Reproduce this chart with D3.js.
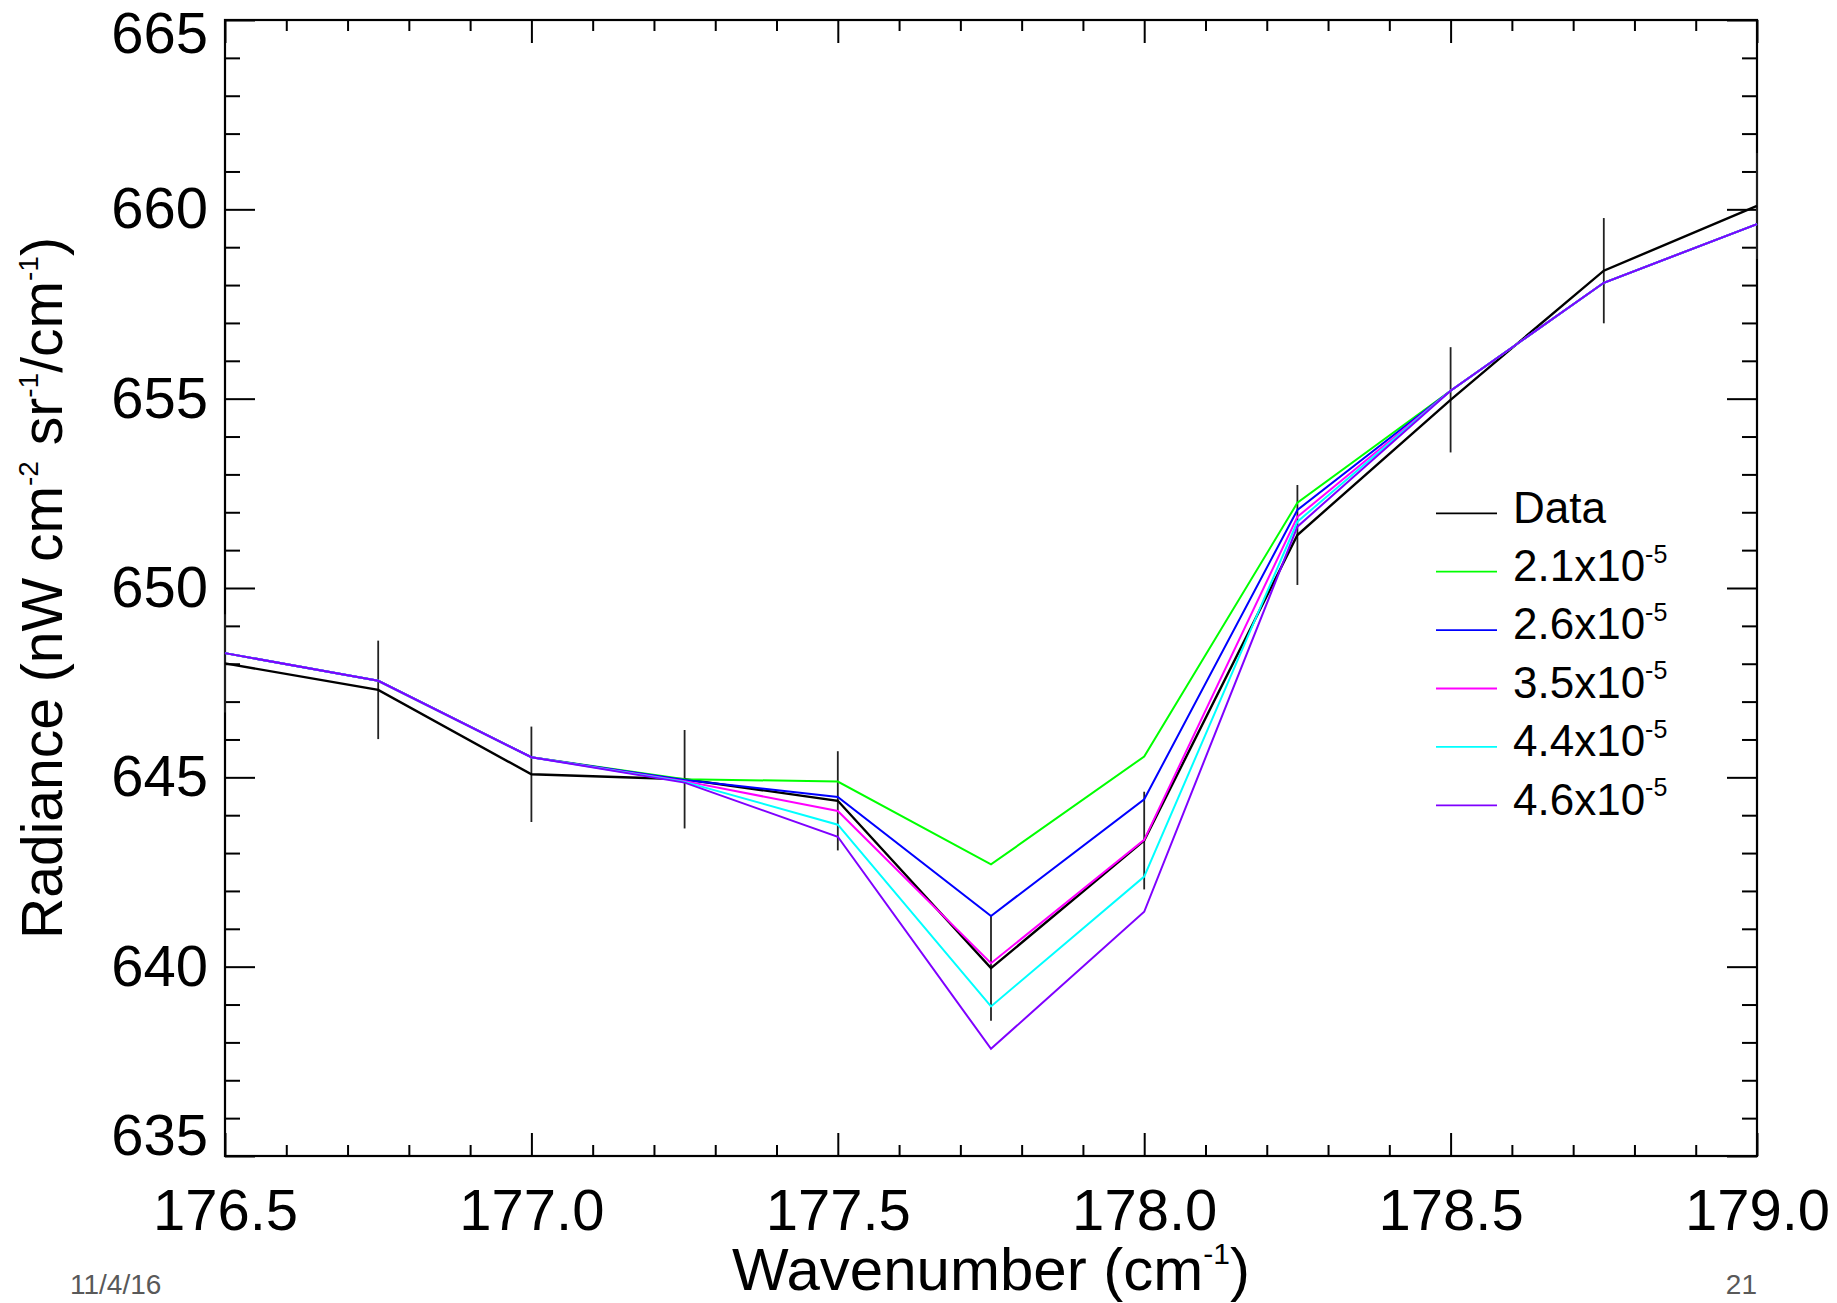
<!DOCTYPE html>
<html>
<head>
<meta charset="utf-8">
<script src="https://cdn.jsdelivr.net/npm/d3@7/dist/d3.min.js"></script>
<style>
  html, body { margin: 0; padding: 0; background: #fff; }
  svg { display: block; font-family: "Liberation Sans", Arial, Helvetica, sans-serif; }
</style>
</head>
<body>
<svg id="chart" width="1837" height="1303"></svg>
<script>
// Wavenumber grid (cm^-1)
const wavenumber = [176.5, 176.75, 177.0, 177.25, 177.5, 177.75, 178.0, 178.25, 178.5, 178.75, 179.0];

// Measured radiance and its 1-sigma uncertainty
const dataRadiance = [648.01, 647.31, 645.08, 644.95, 644.38, 639.96, 643.33, 651.40, 654.97, 658.38, 660.09];
const dataError    = [1.30, 1.30, 1.26, 1.30, 1.31, 1.39, 1.29, 1.32, 1.39, 1.39, 1.40];

// Model radiances for each abundance
const model21 = [648.28, 647.55, 645.53, 644.95, 644.89, 642.70, 645.55, 652.25, 655.21, 658.06, 659.61];
const model26 = [648.28, 647.55, 645.53, 644.93, 644.48, 641.34, 644.42, 652.06, 655.21, 658.06, 659.61];
const model35 = [648.28, 647.55, 645.53, 644.90, 644.11, 640.09, 643.35, 651.88, 655.21, 658.06, 659.61];
const model44 = [648.28, 647.55, 645.53, 644.88, 643.75, 638.95, 642.38, 651.75, 655.21, 658.06, 659.61];
const model46 = [648.28, 647.55, 645.53, 644.86, 643.43, 637.83, 641.45, 651.62, 655.21, 658.06, 659.61];

const modelNames  = ["2.1", "2.6", "3.5", "4.4", "4.6"];
const modelSeries = [model21, model26, model35, model44, model46];
const modelColors = ["#00ff00", "#0000ff", "#ff00ff", "#00ffff", "#7f00ff"];

// Axis ticks
const xMajorTicks = [176.5, 177.0, 177.5, 178.0, 178.5, 179.0];
const yMajorTicks = [635, 640, 645, 650, 655, 660, 665];

(function draw() {
  const svg = d3.select("#chart");
  const plotLeft = 225, plotRight = 1757, plotTop = 20, plotBottom = 1156;

  const x = d3.scaleLinear().domain([176.5, 179.0]).range([plotLeft, plotRight]);
  const y = d3.scaleLinear().domain([635, 665]).range([plotBottom, plotTop]);

  const xMinorTicks = d3.range(176.5, 179.0001, 0.1).map(v => +v.toFixed(1)).filter(v => !xMajorTicks.includes(v));
  const yMinorTicks = d3.range(635, 666, 1).filter(v => !yMajorTicks.includes(v));

  const fontFamily = '"Liberation Sans", Arial, Helvetica, sans-serif';

  function styleAxis(g) {
    g.select(".domain").remove();
    g.selectAll(".tick line").attr("stroke", "#000").attr("stroke-width", 2);
    g.selectAll(".tick text").attr("fill", "#000").style("font-family", fontFamily);
  }

  // Bottom axis: labelled major ticks, then minor ticks
  svg.append("g").attr("transform", `translate(0,${plotBottom})`)
    .call(d3.axisBottom(x).tickValues(xMajorTicks).tickFormat(d3.format(".1f"))
      .tickSizeInner(-23).tickSizeOuter(0).tickPadding(33))
    .call(styleAxis)
    .call(g => g.selectAll(".tick text").style("font-size", "58px"));
  svg.append("g").attr("transform", `translate(0,${plotBottom})`)
    .call(d3.axisBottom(x).tickValues(xMinorTicks).tickFormat("").tickSizeInner(-11).tickSizeOuter(0))
    .call(styleAxis);

  // Top axis (ticks only)
  svg.append("g").attr("transform", `translate(0,${plotTop})`)
    .call(d3.axisTop(x).tickValues(xMajorTicks).tickFormat("").tickSizeInner(-23).tickSizeOuter(0))
    .call(styleAxis);
  svg.append("g").attr("transform", `translate(0,${plotTop})`)
    .call(d3.axisTop(x).tickValues(xMinorTicks).tickFormat("").tickSizeInner(-11).tickSizeOuter(0))
    .call(styleAxis);

  // Left axis: labelled major ticks, end labels nudged inside the page
  svg.append("g").attr("transform", `translate(${plotLeft},0)`)
    .call(d3.axisLeft(y).tickValues(yMajorTicks).tickFormat(d3.format("d"))
      .tickSizeInner(-30).tickSizeOuter(0).tickPadding(17))
    .call(styleAxis)
    .call(g => g.selectAll(".tick text").style("font-size", "58px"))
    .call(g => g.selectAll(".tick text").filter(d => d === 665).attr("y", 14))
    .call(g => g.selectAll(".tick text").filter(d => d === 635).attr("y", -20));
  svg.append("g").attr("transform", `translate(${plotLeft},0)`)
    .call(d3.axisLeft(y).tickValues(yMinorTicks).tickFormat("").tickSizeInner(-15).tickSizeOuter(0))
    .call(styleAxis);

  // Right axis (ticks only)
  svg.append("g").attr("transform", `translate(${plotRight},0)`)
    .call(d3.axisRight(y).tickValues(yMajorTicks).tickFormat("").tickSizeInner(-30).tickSizeOuter(0))
    .call(styleAxis);
  svg.append("g").attr("transform", `translate(${plotRight},0)`)
    .call(d3.axisRight(y).tickValues(yMinorTicks).tickFormat("").tickSizeInner(-15).tickSizeOuter(0))
    .call(styleAxis);

  // Plot frame
  svg.append("rect")
    .attr("x", plotLeft).attr("y", plotTop)
    .attr("width", plotRight - plotLeft).attr("height", plotBottom - plotTop)
    .attr("fill", "none").attr("stroke", "#000").attr("stroke-width", 2.2);

  // Series
  const line = d3.line().x((d, i) => x(wavenumber[i])).y(d => y(d));
  const plot = svg.append("g");

  // Error bars on the measurements
  plot.selectAll("line.err").data(dataRadiance).join("line")
    .attr("class", "err")
    .attr("x1", (d, i) => x(wavenumber[i])).attr("x2", (d, i) => x(wavenumber[i]))
    .attr("y1", (d, i) => y(d - dataError[i])).attr("y2", (d, i) => y(d + dataError[i]))
    .attr("stroke", "#222").attr("stroke-width", 1.8);

  plot.append("path").datum(dataRadiance)
    .attr("d", line).attr("fill", "none").attr("stroke", "#000")
    .attr("stroke-width", 2.4).attr("stroke-linejoin", "miter");

  modelSeries.forEach((s, k) => {
    plot.append("path").datum(s)
      .attr("d", line).attr("fill", "none").attr("stroke", modelColors[k])
      .attr("stroke-width", 2).attr("stroke-linejoin", "miter");
  });

  // Legend
  const legend = svg.append("g");
  const legendRows = [{ label: "Data", color: "#000", sup: null }]
    .concat(modelNames.map((n, k) => ({ label: n + "x10", color: modelColors[k], sup: "-5" })));
  legendRows.forEach((r, i) => {
    const ly = 513.3 + i * 58.4;
    legend.append("line")
      .attr("x1", 1436).attr("x2", 1497).attr("y1", ly).attr("y2", ly)
      .attr("stroke", r.color).attr("stroke-width", 1.8);
    const t = legend.append("text")
      .attr("x", 1513).attr("y", ly + 9.3)
      .style("font-size", "44px").attr("fill", "#000")
      .text(r.label);
    if (r.sup) {
      t.append("tspan").attr("dy", -18.5).style("font-size", "25px").text(r.sup);
    }
  });

  // Axis titles
  const xt = svg.append("text")
    .attr("x", (plotLeft + plotRight) / 2).attr("y", 1290)
    .attr("text-anchor", "middle").style("font-size", "60px").attr("fill", "#000");
  xt.append("tspan").text("Wavenumber (cm");
  xt.append("tspan").attr("dy", -26).style("font-size", "30px").text("-1");
  xt.append("tspan").attr("dy", 26).text(")");

  const yt = svg.append("text")
    .attr("transform", "translate(62,588) rotate(-90)")
    .attr("text-anchor", "middle").style("font-size", "57px").attr("fill", "#000");
  yt.append("tspan").text("Radiance (nW cm");
  yt.append("tspan").attr("dy", -24).style("font-size", "28px").text("-2");
  yt.append("tspan").attr("dy", 24).text(" sr");
  yt.append("tspan").attr("dy", -24).style("font-size", "28px").text("-1");
  yt.append("tspan").attr("dy", 24).text("/cm");
  yt.append("tspan").attr("dy", -24).style("font-size", "28px").text("-1");
  yt.append("tspan").attr("dy", 24).text(")");

  // Slide footer: date and page number
  svg.append("text").attr("x", 70).attr("y", 1294)
    .style("font-size", "28px").attr("fill", "#595959").text("11/4/16");
  svg.append("text").attr("x", 1757).attr("y", 1294).attr("text-anchor", "end")
    .style("font-size", "28px").attr("fill", "#595959").text("21");
})();
</script>
</body>
</html>
